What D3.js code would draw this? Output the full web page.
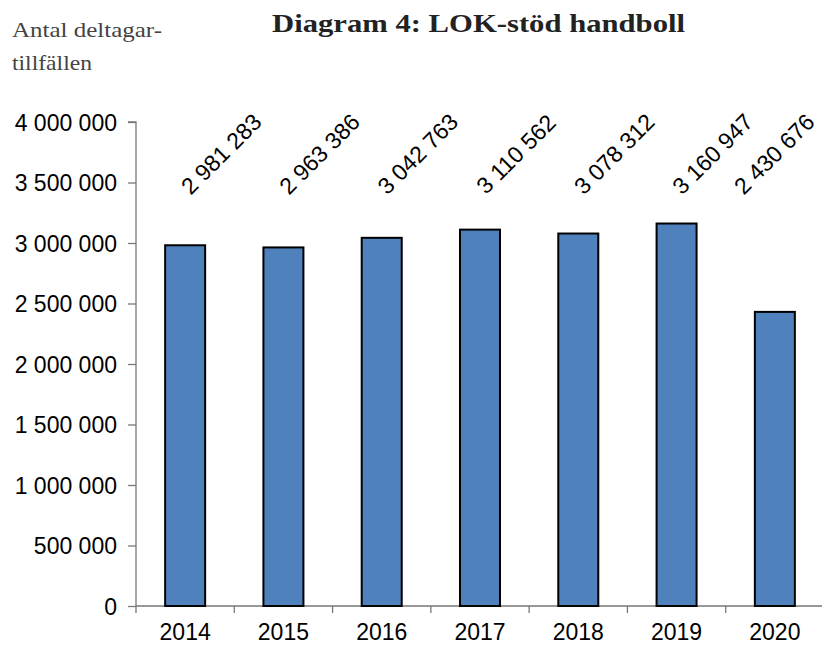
<!DOCTYPE html>
<html>
<head>
<meta charset="utf-8">
<script src="https://cdn.jsdelivr.net/npm/d3@7"></script>
<style>
  html, body { margin: 0; padding: 0; background: #fff; }
  svg { display: block; }
</style>
</head>
<body>
<svg id="chart" width="822" height="646"></svg>
<script>
const years = ["2014", "2015", "2016", "2017", "2018", "2019", "2020"];
const participations = [2981283, 2963386, 3042763, 3110562, 3078312, 3160947, 2430676];
const yTicks = [0, 500000, 1000000, 1500000, 2000000, 2500000, 3000000, 3500000, 4000000];
const titleText = "Diagram 4: LOK-stöd handboll";
const yTitleLines = ["Antal deltagar-", "tillfällen"];

(function () {
const plotLeft = 136, plotRight = 824, plotTop = 122, plotBottom = 606;
const svg = d3.select("#chart");
const locale = d3.formatLocale({ decimal: ",", thousands: "\u00a0", grouping: [3], currency: ["", " kr"] });
const fmt = locale.format(",d");
const sans = "'Liberation Sans', Arial, sans-serif";
const serif = "'Liberation Serif', 'DejaVu Serif', serif";

const x = d3.scaleBand().domain(years).range([plotLeft, plotRight]).paddingInner(0.593).paddingOuter(0.2965);
const y = d3.scaleLinear().domain([0, 4000000]).range([plotBottom, plotTop]);

// Title
svg.append("text")
  .attr("x", 272).attr("y", 32)
  .attr("font-family", serif)
  .attr("font-weight", "bold")
  .attr("font-size", 26)
  .attr("fill", "#222")
  .attr("textLength", 413).attr("lengthAdjust", "spacingAndGlyphs")
  .text(titleText);

// Y title
const yTitleWidths = [150, 80];
yTitleLines.forEach((t, i) => {
  svg.append("text")
    .attr("x", 12).attr("y", 37 + i * 33)
    .attr("font-family", serif)
    .attr("font-size", 22)
    .attr("fill", "#444")
    .attr("textLength", yTitleWidths[i]).attr("lengthAdjust", "spacingAndGlyphs")
    .text(t);
});

// Y axis
const yAxis = d3.axisLeft(y).tickValues(yTicks).tickSize(8).tickPadding(11).tickFormat(fmt);
const gy = svg.append("g").attr("transform", `translate(${plotLeft},0)`).call(yAxis);
gy.select(".domain").attr("stroke", "#777").attr("stroke-width", 1.3).attr("d", `M-8,${plotTop}H0V${plotBottom}`);
gy.selectAll(".tick line").attr("stroke", "#777").attr("stroke-width", 1.3);
gy.selectAll(".tick text").attr("font-family", sans).attr("font-size", 23).attr("fill", "#000").attr("dy", "0.36em");

// X axis
const boundaries = years.map((d, i) => plotLeft + i * x.step()).concat([plotLeft + years.length * x.step()]);
const gx = svg.append("g").attr("transform", `translate(0,${plotBottom})`);
gx.append("line").attr("x1", plotLeft).attr("x2", plotRight).attr("y1", 0).attr("y2", 0).attr("stroke", "#777").attr("stroke-width", 1.3);
gx.selectAll("line.tk").data(boundaries).enter().append("line").attr("class", "tk")
  .attr("x1", d => d).attr("x2", d => d).attr("y1", 0).attr("y2", 7).attr("stroke", "#777").attr("stroke-width", 1.3);
gx.selectAll("text").data(years).enter().append("text")
  .attr("x", d => x(d) + x.bandwidth() / 2)
  .attr("y", 34)
  .attr("text-anchor", "middle")
  .attr("font-family", sans).attr("font-size", 23)
  .text(d => d);

// Bars
svg.append("g").selectAll("rect").data(years).enter().append("rect")
  .attr("x", d => x(d))
  .attr("y", (d, i) => y(participations[i]))
  .attr("width", x.bandwidth())
  .attr("height", (d, i) => plotBottom - y(participations[i]))
  .attr("fill", "#4F81BD")
  .attr("stroke", "#000").attr("stroke-width", 2);

// Value labels (rotated)
const lg = svg.append("g");
years.forEach((d, i) => {
  const t = lg.append("text")
    .attr("text-anchor", "middle")
    .attr("font-family", sans).attr("font-size", 23)
    .attr("dy", "0.35em")
    .text(fmt(participations[i]));
  const len = t.node().getComputedTextLength();
  const half = (len + 16) * Math.SQRT1_2 / 2;
  let cx = x(d) + x.bandwidth() / 2 + 36;
  cx = Math.min(cx, 816 - half);
  t.attr("transform", `translate(${cx},154) rotate(-45)`);
});
})();
</script>
</body>
</html>
